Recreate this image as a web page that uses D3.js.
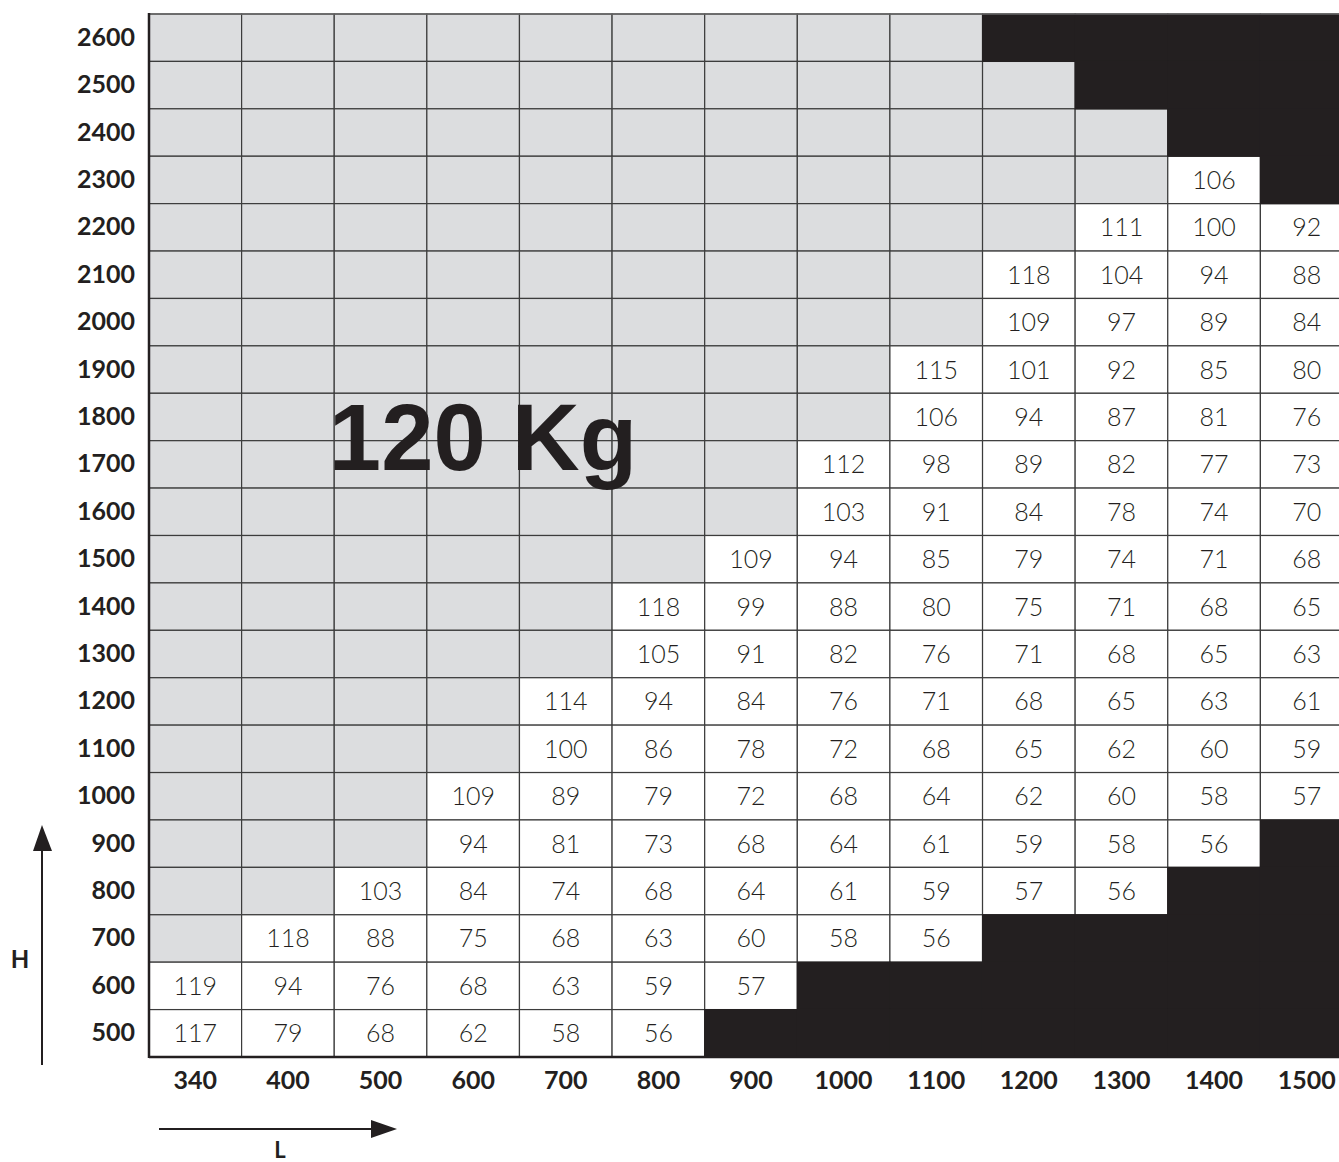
<!DOCTYPE html>
<html>
<head>
<meta charset="utf-8">
<script src="https://cdn.jsdelivr.net/npm/d3@7"></script>
<style>
  body { margin: 0; background: #fff; }
  svg { display: block; }
</style>
</head>
<body>
<div id="chart"></div>
<script>
// L (width) columns and H (height) rows
const widths = [340, 400, 500, 600, 700, 800, 900, 1000, 1100, 1200, 1300, 1400, 1500];
const heights = [2600, 2500, 2400, 2300, 2200, 2100, 2000, 1900, 1800, 1700, 1600,
                 1500, 1400, 1300, 1200, 1100, 1000, 900, 800, 700, 600, 500];

// "G" = over 120 Kg (grey), "X" = not available (black)
const G = "G", X = "X";
const loads = [
  [G, G, G, G, G, G, G, G, G, X, X, X, X],            // 2600
  [G, G, G, G, G, G, G, G, G, G, X, X, X],            // 2500
  [G, G, G, G, G, G, G, G, G, G, G, X, X],            // 2400
  [G, G, G, G, G, G, G, G, G, G, G, 106, X],          // 2300
  [G, G, G, G, G, G, G, G, G, G, 111, 100, 92],       // 2200
  [G, G, G, G, G, G, G, G, G, 118, 104, 94, 88],      // 2100
  [G, G, G, G, G, G, G, G, G, 109, 97, 89, 84],       // 2000
  [G, G, G, G, G, G, G, G, 115, 101, 92, 85, 80],     // 1900
  [G, G, G, G, G, G, G, G, 106, 94, 87, 81, 76],      // 1800
  [G, G, G, G, G, G, G, 112, 98, 89, 82, 77, 73],     // 1700
  [G, G, G, G, G, G, G, 103, 91, 84, 78, 74, 70],     // 1600
  [G, G, G, G, G, G, 109, 94, 85, 79, 74, 71, 68],    // 1500
  [G, G, G, G, G, 118, 99, 88, 80, 75, 71, 68, 65],   // 1400
  [G, G, G, G, G, 105, 91, 82, 76, 71, 68, 65, 63],   // 1300
  [G, G, G, G, 114, 94, 84, 76, 71, 68, 65, 63, 61],  // 1200
  [G, G, G, G, 100, 86, 78, 72, 68, 65, 62, 60, 59],  // 1100
  [G, G, G, 109, 89, 79, 72, 68, 64, 62, 60, 58, 57], // 1000
  [G, G, G, 94, 81, 73, 68, 64, 61, 59, 58, 56, X],   // 900
  [G, G, 103, 84, 74, 68, 64, 61, 59, 57, 56, X, X],  // 800
  [G, 118, 88, 75, 68, 63, 60, 58, 56, X, X, X, X],   // 700
  [119, 94, 76, 68, 63, 59, 57, X, X, X, X, X, X],    // 600
  [117, 79, 68, 62, 58, 56, X, X, X, X, X, X, X]      // 500
];
const title = "120 Kg";

const W = 1339, H = 1162;
const gridLeft = 149, gridTop = 14, gridRight = 1353, gridBottom = 1057;
const ink = "#231f20";

const svg = d3.select("#chart").append("svg")
  .attr("width", W)
  .attr("height", H);

const x = d3.scaleBand().domain(widths).range([gridLeft, gridRight]);
const y = d3.scaleBand().domain(heights).range([gridTop, gridBottom]);

// flatten the table into cells
const cells = [];
loads.forEach((row, i) => {
  row.forEach((v, j) => cells.push({h: heights[i], l: widths[j], v: v}));
});

const cellColor = v => v === X ? ink : (v === G ? "#dcdddf" : "#fff");

svg.append("g")
  .selectAll("rect")
  .data(cells)
  .join("rect")
  .attr("x", d => x(d.l))
  .attr("y", d => y(d.h))
  .attr("width", x.bandwidth())
  .attr("height", y.bandwidth())
  .attr("fill", d => cellColor(d.v))
  .attr("stroke", d => d.v === X ? "none" : "#3c3c3c")
  .attr("stroke-width", 1.2);

// black cells again on top so neighbours' borders don't show inside
svg.append("g")
  .selectAll("rect")
  .data(cells.filter(d => d.v === X))
  .join("rect")
  .attr("x", d => x(d.l) - 0.6)
  .attr("y", d => y(d.h) - 0.6)
  .attr("width", x.bandwidth() + 1.2)
  .attr("height", y.bandwidth() + 1.2)
  .attr("fill", ink);

// values
svg.append("g")
  .selectAll("text")
  .data(cells.filter(d => typeof d.v === "number"))
  .join("text")
  .attr("x", d => x(d.l) + x.bandwidth() / 2)
  .attr("y", d => y(d.h) + y.bandwidth() / 2 + 9)
  .attr("text-anchor", "middle")
  .attr("font-family", "Lato, 'Noto Sans', sans-serif")
  .attr("font-weight", 300)
  .attr("font-size", 25)
  .attr("fill", ink)
  .text(d => d.v);

// frame
svg.append("line")
  .attr("x1", gridLeft).attr("x2", gridRight)
  .attr("y1", gridTop).attr("y2", gridTop)
  .attr("stroke", "#666").attr("stroke-width", 1.5);
svg.append("line")
  .attr("x1", gridLeft).attr("x2", gridLeft)
  .attr("y1", gridTop - 1).attr("y2", gridBottom + 1)
  .attr("stroke", ink).attr("stroke-width", 2.5);
svg.append("line")
  .attr("x1", gridLeft).attr("x2", gridRight)
  .attr("y1", gridBottom).attr("y2", gridBottom)
  .attr("stroke", ink).attr("stroke-width", 2.5);

// axes
const xAxis = svg.append("g")
  .attr("transform", `translate(0,${gridBottom})`)
  .call(d3.axisBottom(x).tickSize(0).tickPadding(14));
const yAxis = svg.append("g")
  .attr("transform", `translate(${gridLeft},0)`)
  .call(d3.axisLeft(y).tickSize(0).tickPadding(14));
[xAxis, yAxis].forEach(a => {
  a.select(".domain").remove();
  a.selectAll("text")
    .attr("font-family", "Lato, 'DejaVu Sans', sans-serif")
    .attr("font-weight", 700)
    .attr("font-size", 25)
    .attr("fill", ink);
});

// big title
svg.append("text")
  .attr("x", 483)
  .attr("y", 470)
  .attr("text-anchor", "middle")
  .attr("font-family", "'Liberation Sans', Arial, sans-serif")
  .attr("font-weight", 700)
  .attr("font-size", 94)
  .attr("fill", ink)
  .text(title);

// arrows
svg.append("line")
  .attr("x1", 42).attr("y1", 1065)
  .attr("x2", 42).attr("y2", 845)
  .attr("stroke", ink).attr("stroke-width", 2);
svg.append("path")
  .attr("d", "M42,825L33,851L52,851Z")
  .attr("fill", ink);

svg.append("line")
  .attr("x1", 159).attr("y1", 1129)
  .attr("x2", 375).attr("y2", 1129)
  .attr("stroke", ink).attr("stroke-width", 2);
svg.append("path")
  .attr("d", "M397,1129L371,1120L371,1138Z")
  .attr("fill", ink);

svg.append("text")
  .attr("x", 20).attr("y", 968)
  .attr("text-anchor", "middle")
  .attr("font-family", "Lato, 'DejaVu Sans', sans-serif")
  .attr("font-weight", 700)
  .attr("font-size", 24)
  .attr("fill", ink)
  .text("H");
svg.append("text")
  .attr("x", 280).attr("y", 1158)
  .attr("text-anchor", "middle")
  .attr("font-family", "Lato, 'DejaVu Sans', sans-serif")
  .attr("font-weight", 700)
  .attr("font-size", 22)
  .attr("fill", ink)
  .text("L");
</script>
</body>
</html>
